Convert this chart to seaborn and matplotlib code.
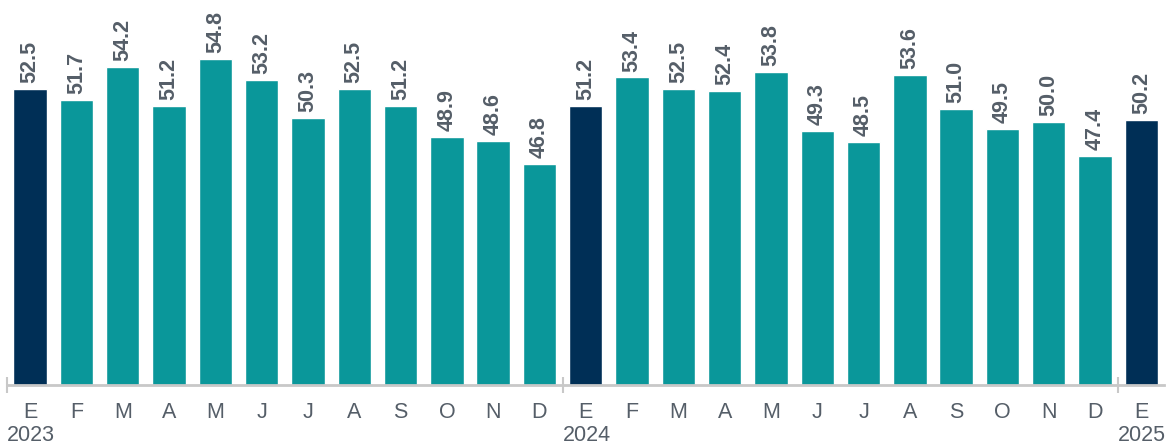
import matplotlib
matplotlib.use("Agg")
import matplotlib.pyplot as plt
import matplotlib.transforms as mtransforms
import seaborn as sns
import pandas as pd

months = ["E", "F", "M", "A", "M", "J", "J", "A", "S", "O", "N", "D",
          "E", "F", "M", "A", "M", "J", "J", "A", "S", "O", "N", "D", "E"]
values = [52.5, 51.7, 54.2, 51.2, 54.8, 53.2, 50.3, 52.5, 51.2, 48.9, 48.6, 46.8,
          51.2, 53.4, 52.5, 52.4, 53.8, 49.3, 48.5, 53.6, 51.0, 49.5, 50.0, 47.4, 50.2]
years = ["2023", "2024", "2025"]
year_starts = [0, 12, 24]

NAVY = "#002f56"
TEAL = "#0a979a"
GREY = "#555e68"

df = pd.DataFrame({"pos": range(len(values)), "value": values})
df["kind"] = ["ene" if m == "E" and i in year_starts else "mes"
              for i, m in enumerate(months)]

sns.set_style("white")
plt.rcParams["font.family"] = ["Liberation Sans", "DejaVu Sans"]

fig, ax = plt.subplots(figsize=(11.68, 4.47), dpi=100)
fig.subplots_adjust(left=0.006, right=0.997, bottom=0.139, top=1.0)

sns.barplot(data=df, x="pos", y="value", hue="kind",
            palette={"ene": NAVY, "mes": TEAL}, width=0.72,
            legend=False, ax=ax, saturation=1)

for i, v in enumerate(values):
    ax.text(i, v + 0.45, f"{v:.1f}", rotation=90, ha="center", va="bottom",
            fontsize=15.5, fontweight="bold", color=GREY)

ax.set_ylim(30, 59.3)
ax.set_xlim(-0.5, 24.5)
ax.set_xlabel("")
ax.set_ylabel("")
ax.set_yticks([])
ax.set_xticks(range(len(months)))
ax.set_xticklabels(months, fontsize=15.5, color=GREY)
ax.tick_params(axis="x", which="major", bottom=True, length=0, pad=12)

ax.set_xticks([s - 0.5 for s in year_starts], minor=True)
ax.tick_params(axis="x", which="minor", bottom=True, length=12, width=1.5,
               direction="inout", color="#c8c8c8")

for side in ["top", "right", "left"]:
    ax.spines[side].set_visible(False)
ax.spines["bottom"].set_color("#c8c8c8")
ax.spines["bottom"].set_linewidth(2)

trans = mtransforms.blended_transform_factory(ax.transData, ax.transAxes)
for s, y in zip(year_starts, years):
    ax.text(s - 0.5, -0.132, y, transform=trans, ha="left", va="center",
            fontsize=15.5, color=GREY)

fig.savefig("out.png", dpi=100)
